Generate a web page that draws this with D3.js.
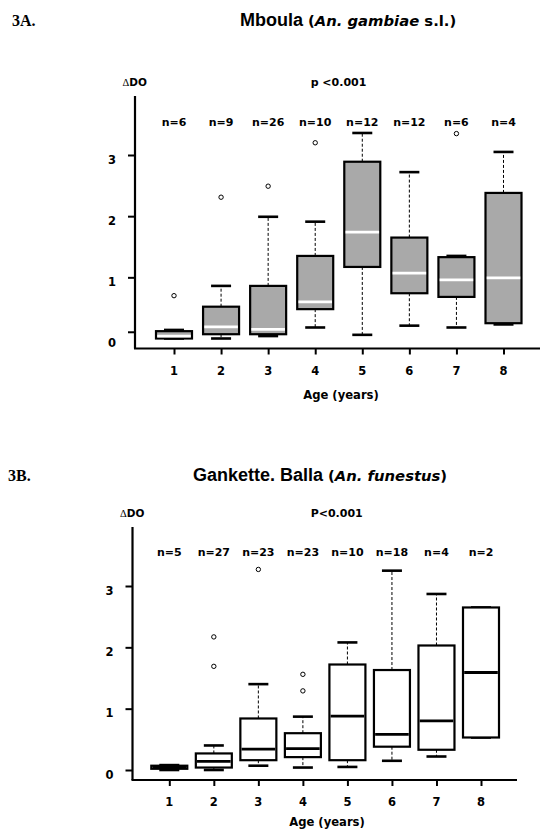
<!DOCTYPE html>
<html>
<head>
<meta charset="utf-8">
<script src="https://cdn.jsdelivr.net/npm/d3@7"></script>
<style>
  body { margin: 0; background: #fff; }
  text { font-family: "DejaVu Sans", sans-serif; font-weight: bold; fill: #000; }
</style>
</head>
<body>
<div id="chart"></div>
<script>
var svgWidth = 541;
var svgHeight = 831;

// age classes (x axis)
var ages = [1, 2, 3, 4, 5, 6, 7, 8];
var yTickLabels = [0, 1, 2, 3];

// 3A. Mboula (An. gambiae s.l.)
var nA = [6, 9, 26, 10, 12, 12, 6, 4];
var lowA = [0.00, 0.00, 0.04, 0.18, 0.06, 0.21, 0.18, 0.23];
var q1A = [0.00, 0.07, 0.07, 0.48, 1.17, 0.74, 0.68, 0.25];
var medA = [0.04, 0.19, 0.15, 0.60, 1.74, 1.07, 0.96, 0.99];
var q3A = [0.12, 0.52, 0.86, 1.35, 2.89, 1.65, 1.33, 2.38];
var highA = [0.14, 0.86, 1.99, 1.91, 3.36, 2.72, 1.35, 3.05];
var outA = [[0.70], [2.31], [2.49], [3.20], [], [], [3.35], []];
var tickMarksA = [0.11, 1, 2, 3];   // the zero tick sits a little high in the original

// 3B. Gankette. Balla (An. funestus)
var nB = [5, 27, 23, 23, 10, 18, 4, 2];
var lowB = [0.00, 0.00, 0.07, 0.04, 0.05, 0.15, 0.22, 0.53];
var q1B = [0.02, 0.04, 0.16, 0.21, 0.16, 0.38, 0.33, 0.53];
var medB = [0.05, 0.14, 0.34, 0.35, 0.88, 0.58, 0.80, 1.59];
var q3B = [0.07, 0.27, 0.84, 0.60, 1.72, 1.63, 2.03, 2.65];
var highB = [0.08, 0.40, 1.40, 0.87, 2.08, 3.25, 2.87, 2.65];
var outB = [[], [1.69, 2.17], [3.27], [1.29, 1.56], [], [], [], []];
var tickMarksB = [0, 1, 2, 3];

var svg = d3.select("#chart")
  .append("svg")
  .attr("width", svgWidth)
  .attr("height", svgHeight);

function drawPanel(p) {
  var g = svg.append("g");

  var data = ages.map(function(a, i) {
    return {age: a, n: p.n[i], low: p.low[i], q1: p.q1[i], med: p.med[i],
            q3: p.q3[i], high: p.high[i], out: p.out[i]};
  });

  var x = d3.scaleLinear().domain([1, 8]).range([p.x1, p.x8]);
  var y = d3.scaleLinear().domain([0, 3]).range([p.y0, p.y3]);

  // panel label + title
  g.append("text")
    .attr("x", p.labelX).attr("y", p.titleY).attr("dy", "0.35em")
    .style("font-family", "'Liberation Serif', serif")
    .style("font-size", "16px")
    .text(p.label);

  var title = g.append("text")
    .attr("x", p.titleX).attr("y", p.titleY).attr("dy", "0.35em");
  title.append("tspan")
    .style("font-family", "'Liberation Sans', Arial, sans-serif")
    .style("font-size", "18px")
    .text(p.site + " ");
  title.append("tspan").style("font-size", "14.8px").text("(");
  title.append("tspan").style("font-size", "14.8px").style("font-style", "italic").text(p.species);
  title.append("tspan").style("font-size", "14.8px").text(p.suffix + ")");

  // delta DO + p value
  var dlabel = g.append("text")
    .attr("x", p.axisX + 12).attr("y", p.topY - 14).attr("dy", "0.35em")
    .attr("text-anchor", "end")
    .style("font-size", "10.5px");
  dlabel.append("tspan").style("font-family", "'Liberation Serif', serif").style("font-weight", "normal").text("\u0394");
  dlabel.append("tspan").text("DO");

  g.append("text")
    .attr("x", p.pX).attr("y", p.topY - 14).attr("dy", "0.35em")
    .attr("text-anchor", "middle")
    .style("font-size", "11px")
    .text(p.pText);

  // y axis
  var yAxis = d3.axisLeft(y).tickValues(p.tickMarks).tickSize(7).tickFormat("");
  var ya = g.append("g")
    .attr("transform", `translate(${p.axisX},0)`)
    .call(yAxis);
  ya.select(".domain").remove();
  ya.selectAll(".tick line").attr("stroke", "#000").attr("stroke-width", 2);
  g.append("line")
    .attr("x1", p.axisX).attr("x2", p.axisX)
    .attr("y1", p.topY).attr("y2", p.xAxisY)
    .attr("stroke", "#000").attr("stroke-width", 2.2);

  g.selectAll(".ylab")
    .data(yTickLabels)
    .enter()
    .append("text")
    .attr("x", p.axisX - 19)
    .attr("y", d => y(d) + 4.5)
    .attr("dy", "0.35em")
    .attr("text-anchor", "end")
    .style("font-size", "11.5px")
    .text(d => d);

  // x axis
  var xAxis = d3.axisBottom(x).tickValues(ages).tickSize(6).tickFormat("");
  var xa = g.append("g")
    .attr("transform", `translate(0,${p.xAxisY})`)
    .call(xAxis);
  xa.select(".domain").remove();
  xa.selectAll(".tick line").attr("stroke", "#000").attr("stroke-width", 2);
  g.append("line")
    .attr("x1", p.axisX - 1).attr("x2", p.xEnd)
    .attr("y1", p.xAxisY).attr("y2", p.xAxisY)
    .attr("stroke", "#000").attr("stroke-width", 2.2);

  g.selectAll(".xlab")
    .data(ages)
    .enter()
    .append("text")
    .attr("x", d => x(d))
    .attr("y", p.xAxisY + 22)
    .attr("dy", "0.35em")
    .attr("text-anchor", "middle")
    .style("font-size", "11.5px")
    .text(d => d);

  g.append("text")
    .attr("x", p.ageX).attr("y", p.xAxisY + p.ageDy)
    .attr("dy", "0.35em")
    .attr("text-anchor", "middle")
    .style("font-size", "11.6px")
    .text("Age (years)");

  // n= labels
  g.selectAll(".nlab")
    .data(data)
    .enter()
    .append("text")
    .attr("x", d => x(d.age))
    .attr("y", p.nY)
    .attr("dy", "0.35em")
    .attr("text-anchor", "middle")
    .style("font-size", "11px")
    .text(d => "n=" + d.n);

  // whiskers
  var hw = 18, cw = 10;
  var boxes = g.append("g").selectAll("g")
    .data(data)
    .enter()
    .append("g");

  boxes.append("line")
    .attr("x1", d => x(d.age)).attr("x2", d => x(d.age))
    .attr("y1", d => y(d.q3)).attr("y2", d => y(d.high))
    .attr("stroke", "#000").attr("stroke-width", 1).attr("stroke-dasharray", "3,2");
  boxes.append("line")
    .attr("x1", d => x(d.age)).attr("x2", d => x(d.age))
    .attr("y1", d => y(d.q1)).attr("y2", d => y(d.low))
    .attr("stroke", "#000").attr("stroke-width", 1).attr("stroke-dasharray", "3,2");
  boxes.append("line")
    .attr("x1", d => x(d.age) - cw).attr("x2", d => x(d.age) + cw)
    .attr("y1", d => y(d.high)).attr("y2", d => y(d.high))
    .attr("stroke", "#000").attr("stroke-width", 2.6);
  boxes.append("line")
    .attr("x1", d => x(d.age) - cw).attr("x2", d => x(d.age) + cw)
    .attr("y1", d => y(d.low)).attr("y2", d => y(d.low))
    .attr("stroke", "#000").attr("stroke-width", 2.6);

  // boxes
  boxes.append("rect")
    .attr("x", d => x(d.age) - hw)
    .attr("width", hw * 2)
    .attr("y", d => y(d.q3))
    .attr("height", d => y(d.q1) - y(d.q3))
    .attr("fill", p.fill)
    .attr("stroke", "#000")
    .attr("stroke-width", 2.2);

  boxes.append("line")
    .attr("x1", d => x(d.age) - hw + 1.2).attr("x2", d => x(d.age) + hw - 1.2)
    .attr("y1", d => y(d.med)).attr("y2", d => y(d.med))
    .attr("stroke", p.medColor).attr("stroke-width", 2.8);

  // outliers
  boxes.selectAll("circle")
    .data(d => d.out.map(v => ({age: d.age, v: v})))
    .enter()
    .append("circle")
    .attr("cx", d => x(d.age))
    .attr("cy", d => y(d.v))
    .attr("r", 2.2)
    .attr("fill", "#fff")
    .attr("stroke", "#000")
    .attr("stroke-width", 1);
}

drawPanel({
  label: "3A.", site: "Mboula", species: "An. gambiae", suffix: " s.l.",
  pText: "p <0.001",
  n: nA, low: lowA, q1: q1A, med: medA, q3: q3A, high: highA, out: outA,
  tickMarks: tickMarksA,
  labelX: 12, titleX: 240, titleY: 20,
  axisX: 135, topY: 96, xAxisY: 348.5, xEnd: 540,
  x1: 174, x8: 503.5, y0: 338.5, y3: 155,
  pX: 338.5, nY: 121.7, ageX: 341, ageDy: 46,
  fill: "#a9a9a9", medColor: "#fff"
});

drawPanel({
  label: "3B.", site: "Gankette. Balla", species: "An. funestus", suffix: "",
  pText: "P<0.001",
  n: nB, low: lowB, q1: q1B, med: medB, q3: q3B, high: highB, out: outB,
  tickMarks: tickMarksB,
  labelX: 8, titleX: 193, titleY: 475,
  axisX: 132.5, topY: 527, xAxisY: 780, xEnd: 517,
  x1: 169.3, x8: 481, y0: 770, y3: 586,
  pX: 336.7, nY: 552.3, ageX: 327, ageDy: 42,
  fill: "#fff", medColor: "#000"
});
</script>
</body>
</html>
